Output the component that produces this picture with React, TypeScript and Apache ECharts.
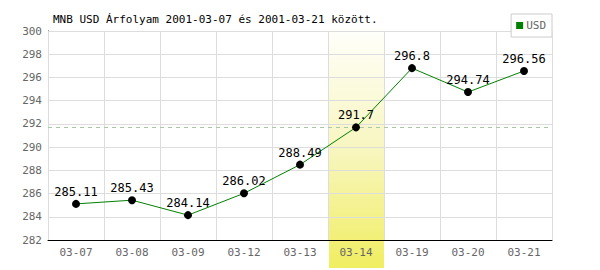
import React, { useEffect, useRef } from "react";
import * as echarts from "echarts";

const categories = ["03-07", "03-08", "03-09", "03-12", "03-13", "03-14", "03-19", "03-20", "03-21"];
const usdValues = [285.11, 285.43, 284.14, 286.02, 288.49, 291.7, 296.8, 294.74, 296.56];
const highlightCategory = "03-14";
const referenceValue = 291.7;
const titleText = "MNB USD Árfolyam 2001-03-07 és 2001-03-21 között.";

const MONO = "'DejaVu Sans Mono', 'Liberation Mono', monospace";

export default function App() {
  const ref = useRef<HTMLDivElement>(null);
  useEffect(() => {
    if (!ref.current) return;
    const chart = echarts.init(ref.current, null, { renderer: "svg" });
    chart.setOption({
      animation: false,
      backgroundColor: "#ffffff",
      title: {
        text: titleText,
        left: 48,
        top: 9,
        textStyle: { fontFamily: MONO, fontSize: 11, fontWeight: "normal", color: "#000" },
      },
      legend: {
        right: 48,
        top: 14,
        data: [{ name: "USD", itemStyle: { color: "#008000" } }],
        icon: "rect",
        itemWidth: 7,
        itemHeight: 7,
        itemGap: 2,
        borderColor: "#cccccc",
        borderWidth: 1,
        padding: [6, 6, 6, 5],
        backgroundColor: "#fff",
        textStyle: { fontFamily: MONO, fontSize: 11, color: "#666", padding: [0, 0, 0, -2] },
      },
      grid: { left: 48, right: 48, top: 31, bottom: 30, containLabel: false },
      xAxis: {
        type: "category",
        data: categories,
        boundaryGap: true,
        axisLine: { show: true, lineStyle: { color: "#000", width: 1 } },
        axisTick: { show: false },
        axisLabel: { fontFamily: MONO, fontSize: 11, color: "#666", margin: 7 },
        splitLine: { show: true, lineStyle: { color: "#dddddd", width: 1 } },
        z: 5,
      },
      yAxis: {
        type: "value",
        min: 282,
        max: 300,
        interval: 2,
        axisLine: { show: true, lineStyle: { color: "#000", width: 1 } },
        axisTick: { show: false },
        axisLabel: { fontFamily: MONO, fontSize: 11, color: "#666", margin: 6 },
        splitLine: { show: true, lineStyle: { color: "#dddddd", width: 1 } },
      },
      series: [
        {
          name: "USD",
          type: "line",
          data: usdValues,
          color: "#008000",
          lineStyle: { color: "#008000", width: 1 },
          symbol: "circle",
          symbolSize: 8,
          itemStyle: { color: "#000" },
          label: {
            show: true,
            position: "top",
            distance: 2,
            fontFamily: MONO,
            fontSize: 12,
            color: "#000",
          },
          markLine: {
            silent: true,
            symbol: "none",
            label: { show: false },
            lineStyle: { color: "#a8c8a8", type: [4, 4], width: 1 },
            data: [{ yAxis: referenceValue }],
          },
          z: 10,
        },
      ],
    });
    const idx = categories.indexOf(highlightCategory);
    const p0 = chart.convertToPixel({ xAxisIndex: 0 }, idx) as number;
    const p1 = chart.convertToPixel({ xAxisIndex: 0 }, idx + 1 < categories.length ? idx + 1 : idx - 1) as number;
    const band = Math.abs(p1 - p0);
    chart.setOption({
      graphic: [
        {
          type: "rect",
          z: -1,
          zlevel: 0,
          shape: { x: p0 - band / 2 + 1, y: 28, width: band - 1, height: 240 },
          style: {
            fill: new echarts.graphic.LinearGradient(0, 0, 0, 1, [
              { offset: 0, color: "#fffffc" },
              { offset: 0.5, color: "#f8f6c0" },
              { offset: 1, color: "#f0ee60" },
            ]),
          },
          silent: true,
        },
      ],
    });
    return () => chart.dispose();
  }, []);
  return <div ref={ref} style={{ position: "fixed", left: 0, top: 0, width: 600, height: 270 }} />;
}
